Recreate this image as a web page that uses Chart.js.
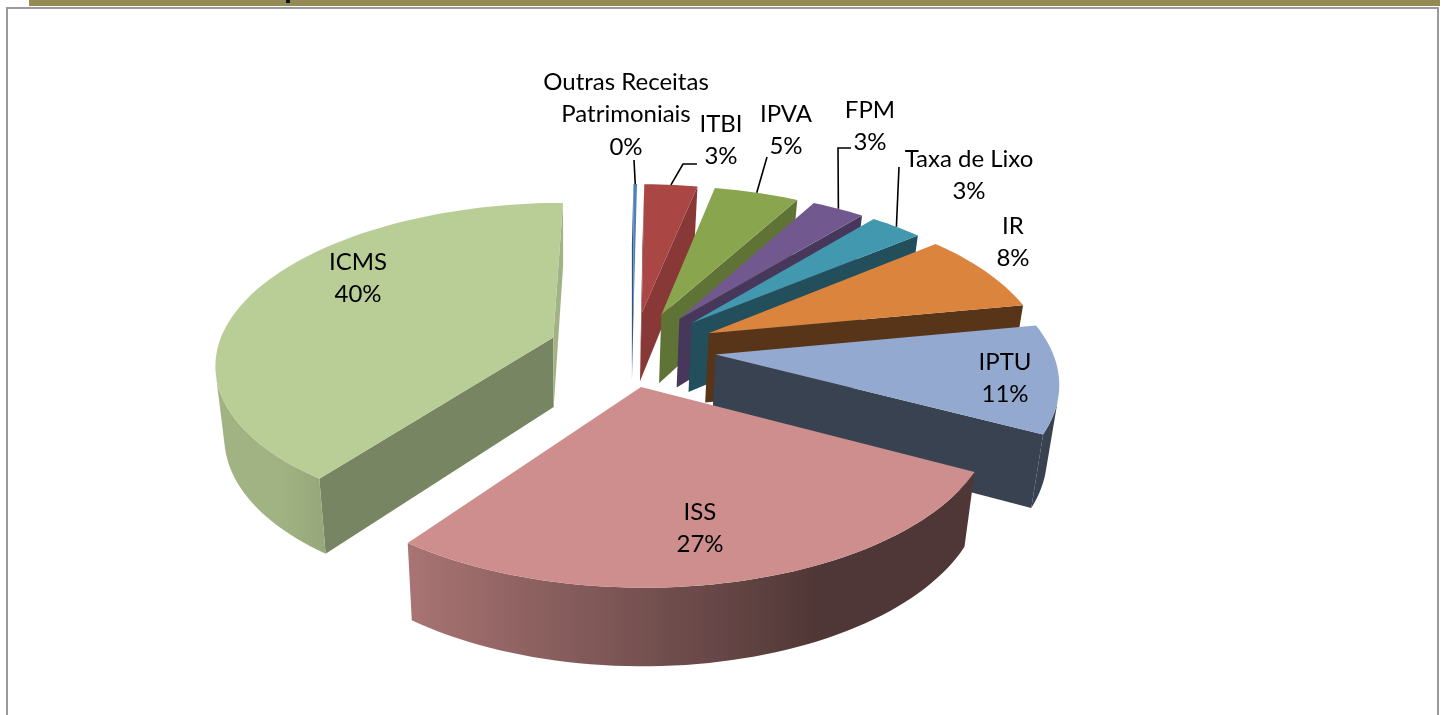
<!DOCTYPE html>
<html>
<head>
<meta charset="utf-8">
<title>Receitas</title>
<script src="https://cdn.jsdelivr.net/npm/chart.js@4"></script>
<style>
  html, body { margin: 0; background: #fff; overflow: hidden; }
  #wrap { position: relative; width: 1443px; height: 715px; }
  #band { position: absolute; left: 29px; top: 0; width: 1411px; height: 6px; background: #948A54; }
  #speck { position: absolute; left: 286px; top: 0; width: 4px; height: 3px; background: #111; }
  #frame { position: absolute; left: 6px; top: 7px; width: 1429px; height: 720px; border: 2px solid #9a9a9a; }
  canvas { position: absolute; left: 0; top: 0; }
</style>
</head>
<body>
<div id="wrap">
  <div id="band"></div>
  <div id="speck"></div>
  <div id="frame"></div>
  <canvas id="pie" width="1443" height="715"></canvas>
</div>
<script>
const categories = ['Outras Receitas Patrimoniais', 'ITBI', 'IPVA', 'FPM', 'Taxa de Lixo', 'IR', 'IPTU', 'ISS', 'ICMS'];
const values = [0.2, 3, 4.8, 3, 3, 8, 10.7, 27.4, 39.9];
const colors = ['#4F81BD', '#AA4644', '#89A54E', '#71588F', '#4198AF', '#DB843D', '#93A9CF', '#CE8E8D', '#B9CD96'];

// text layout, one entry per slice
const labelLines = [['Outras Receitas', 'Patrimoniais'], ['ITBI'], ['IPVA'], ['FPM'], ['Taxa de Lixo'], ['IR'], ['IPTU'], ['ISS'], ['ICMS']];
const labelCenterX = [626, 721, 786, 870, 969, 1013, 1005, 700, 358];
const labelTopY = [82, 124, 114, 110, 159, 226, 362, 512, 262];
const leaderFrom = [[634, 160], [697, 164], [767, 157], [851, 148], [899, 167], null, null, null, null];
const leaderElbow = [null, [683, 164], null, [838, 148], null, null, null, null, null];

// how dark the flat cut faces are, per slice
const endWallShade = [0.85, 0.8, 0.7, 0.63, 0.52, 0.4, 0.39, 0.39, 0.87];
const startWallShade = 0.65;

// fake 3D view
const RADIUS = 336, EXPLODE = 80, TILT = 0.47, PERSP = 0.15, DEPTH = 70, VANISH_X = 570, CONVERGE = 0.025;
const SHIFT_FRONT = 0.15, SHIFT_SIDE = 0.06;

function shade(hex, f) {
  const n = parseInt(hex.slice(1), 16);
  return `rgb(${Math.round((n >> 16) * f)},${Math.round(((n >> 8) & 255) * f)},${Math.round((n & 255) * f)})`;
}

function rimShade(a) {
  // a is the canvas angle, cos(a) > 0 means the rim faces right and gets dark
  return Math.min(0.87, Math.max(0.39, 0.57 - 0.42 * Math.cos(a)));
}

function project(arc, r, a) {
  const mid = (arc.startAngle + arc.endAngle) / 2;
  const ox = EXPLODE * Math.cos(mid), oy = EXPLODE * Math.sin(mid);
  const wx = ox + r * Math.cos(a);
  const wy = oy + r * Math.sin(a);
  const s = 1 / (1 - PERSP * wy / RADIUS);
  const x = arc.x + wx * s - SHIFT_FRONT * Math.max(0, oy) + SHIFT_SIDE * ox;
  const y = arc.y + TILT * wy * s;
  return {
    x, y,
    bx: x - (x - VANISH_X) * CONVERGE,
    by: y + DEPTH * (1 + 0.1 * wy / RADIUS)
  };
}

function facesViewer(p, q) {
  return (q.x - p.x) * (p.by - p.y) - (q.y - p.y) * (p.bx - p.x) < 0;
}

function wall(ctx, p, q, color) {
  if (!facesViewer(p, q)) return;
  ctx.fillStyle = color;
  ctx.beginPath();
  ctx.moveTo(p.x, p.y);
  ctx.lineTo(q.x, q.y);
  ctx.lineTo(q.bx, q.by);
  ctx.lineTo(p.bx, p.by);
  ctx.closePath();
  ctx.fill();
}

// one polygon for a run of rim points so the gradient has no seams
function rimRun(ctx, run, base) {
  if (run.length < 2) return;
  const xs = run.map(r => r.p.x);
  const x0 = Math.min(...xs), x1 = Math.max(...xs);
  const grad = ctx.createLinearGradient(x0, 0, x1 + 0.01, 0);
  run.forEach(r => grad.addColorStop((r.p.x - x0) / (x1 + 0.01 - x0), shade(base, rimShade(r.a))));
  ctx.fillStyle = grad;
  ctx.beginPath();
  run.forEach(r => ctx.lineTo(r.p.x, r.p.y));
  run.slice().reverse().forEach(r => ctx.lineTo(r.p.bx, r.p.by));
  ctx.closePath();
  ctx.fill();
}

function drawSlice(ctx, arc, i) {
  const base = arc.options.backgroundColor;
  const apex = project(arc, 0, arc.startAngle);
  const steps = Math.max(2, Math.ceil((arc.endAngle - arc.startAngle) / 0.03));
  const rim = [];
  for (let n = 0; n <= steps; n++) {
    const a = arc.startAngle + (arc.endAngle - arc.startAngle) * n / steps;
    rim.push({ a, p: project(arc, arc.outerRadius, a) });
  }
  wall(ctx, apex, rim[0].p, shade(base, startWallShade));
  wall(ctx, rim[steps].p, apex, shade(base, endWallShade[i]));
  let run = [];
  for (let n = 0; n < steps; n++) {
    if (facesViewer(rim[n].p, rim[n + 1].p)) {
      if (!run.length) run.push(rim[n]);
      run.push(rim[n + 1]);
    } else {
      rimRun(ctx, run, base);
      run = [];
    }
  }
  rimRun(ctx, run, base);
  ctx.fillStyle = base;
  ctx.beginPath();
  ctx.moveTo(apex.x, apex.y);
  rim.forEach(r => ctx.lineTo(r.p.x, r.p.y));
  ctx.closePath();
  ctx.fill();
}

const pie3d = {
  id: 'pie3d',
  beforeDatasetsDraw(chart) {
    const ctx = chart.ctx;
    const arcs = chart.getDatasetMeta(0).data;
    const order = arcs.map((arc, i) => i).sort((a, b) => {
      const ma = (arcs[a].startAngle + arcs[a].endAngle) / 2;
      const mb = (arcs[b].startAngle + arcs[b].endAngle) / 2;
      return Math.sin(ma) - Math.sin(mb);
    });
    ctx.save();
    order.forEach(i => drawSlice(ctx, arcs[i], i));
    ctx.restore();
    return false;
  },
  afterDraw(chart) {
    const ctx = chart.ctx;
    const arcs = chart.getDatasetMeta(0).data;
    const total = values.reduce((a, b) => a + b, 0);
    ctx.save();
    ctx.strokeStyle = '#000';
    ctx.lineWidth = 1.6;
    arcs.forEach((arc, i) => {
      if (!leaderFrom[i]) return;
      const mid = (arc.startAngle + arc.endAngle) / 2;
      const end = project(arc, arc.outerRadius, mid);
      ctx.beginPath();
      ctx.moveTo(leaderFrom[i][0], leaderFrom[i][1]);
      if (leaderElbow[i]) ctx.lineTo(leaderElbow[i][0], leaderElbow[i][1]);
      ctx.lineTo(end.x, end.y);
      ctx.stroke();
    });
    ctx.fillStyle = '#000';
    ctx.font = '24px Lato';
    ctx.textAlign = 'center';
    ctx.textBaseline = 'middle';
    categories.forEach((c, i) => {
      const lines = labelLines[i].concat(Math.round(values[i] / total * 100) + '%');
      lines.forEach((t, n) => ctx.fillText(t, labelCenterX[i], labelTopY[i] + n * 32.5));
    });
    ctx.restore();
  }
};

new Chart(document.getElementById('pie'), {
  type: 'pie',
  data: {
    labels: categories,
    datasets: [{
      data: values,
      backgroundColor: colors,
      borderWidth: 0,
      offset: EXPLODE
    }]
  },
  options: {
    responsive: false,
    animation: false,
    radius: RADIUS,
    layout: { padding: { right: 177, bottom: 17 } },
    plugins: { legend: { display: false }, tooltip: { enabled: false } }
  },
  plugins: [pie3d]
});
</script>
</body>
</html>
